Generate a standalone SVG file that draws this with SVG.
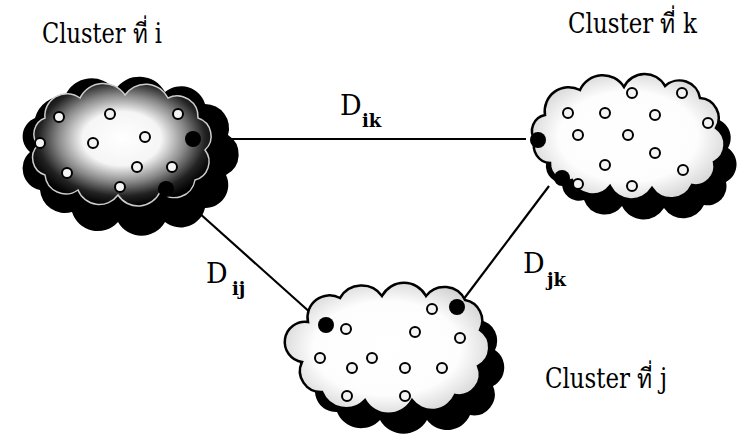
<svg xmlns="http://www.w3.org/2000/svg" width="743" height="443" viewBox="0 0 743 443">
<defs>
<radialGradient id="gDark" cx="50%" cy="45%" r="55%">
<stop offset="0" stop-color="#fff"/>
<stop offset="0.4" stop-color="#f5f5f5"/>
<stop offset="0.65" stop-color="#888"/>
<stop offset="0.85" stop-color="#222"/>
<stop offset="1" stop-color="#000"/>
</radialGradient>
<radialGradient id="gLight" cx="50%" cy="50%" r="60%">
<stop offset="0" stop-color="#fff"/>
<stop offset="0.6" stop-color="#fdfdfd"/>
<stop offset="1" stop-color="#c8c8c8"/>
</radialGradient>
</defs>
<style>
text{font-family:"DejaVu Serif","Noto Serif",serif;fill:#000}
.lbl{font-size:27px}
.dd{font-size:27px}
.sub{font-size:18px;font-weight:bold}
.edge{stroke:#000;stroke-width:2.2;fill:none}
.pt{fill:#f4f4f4;stroke:#000;stroke-width:2}
.hub{fill:#000}
.shadow{fill:#000}
.cloud{stroke:#000;stroke-width:2.5}
</style>

<g id="connectors">
<line class="edge" x1="232" y1="139" x2="526" y2="139"/>
<line class="edge" x1="198" y1="212" x2="322" y2="323"/>
<line class="edge" x1="549" y1="186" x2="460" y2="304"/>
</g>

<g id="cluster-i">
<path class="shadow" d="M35,118 A30,30 0 0 1 65,96 A29,29 0 0 1 115,90 A29,29 0 0 1 165,92 A25,25 0 0 1 205,104 A24,24 0 0 1 228,135 A23,23 0 0 1 226,175 A23,23 0 0 1 205,208 A25,25 0 0 1 165,222 A27,27 0 0 1 118,222 A27,27 0 0 1 72,212 A25,25 0 0 1 40,190 A22,22 0 0 1 30,152 A20,20 0 0 1 35,118 Z"/>
<path fill="url(#gDark)" stroke="#ccc" stroke-width="1.5" d="M45,118 A22,22 0 0 1 80,98 A26,26 0 0 1 125,95 A25,25 0 0 1 168,98 A21,21 0 0 1 198,118 A19,19 0 0 1 205,150 A19,19 0 0 1 195,180 A21,21 0 0 1 160,192 A24,24 0 0 1 118,195 A23,23 0 0 1 78,190 A21,21 0 0 1 45,175 A18,18 0 0 1 38,145 A17,17 0 0 1 45,118 Z"/>
<circle class="pt" cx="59" cy="117" r="5"/>
<circle class="pt" cx="110" cy="114" r="5"/>
<circle class="pt" cx="178" cy="114" r="5"/>
<circle class="pt" cx="40" cy="143" r="5"/>
<circle class="pt" cx="93" cy="143" r="5"/>
<circle class="pt" cx="145" cy="137" r="5"/>
<circle class="pt" cx="67" cy="173" r="5"/>
<circle class="pt" cx="137" cy="167" r="5"/>
<circle class="pt" cx="172" cy="167" r="5"/>
<circle class="pt" cx="120" cy="187" r="5"/>
<circle class="hub" cx="193" cy="139" r="8"/>
<circle class="hub" cx="166" cy="189" r="8"/>
</g>

<g id="cluster-k">
<path class="shadow" d="M557,135 A28,28 0 0 1 592,110 A25,25 0 0 1 636,107 A23,23 0 0 1 677,106 A22,22 0 0 1 712,118 A20,20 0 0 1 728,148 A20,20 0 0 1 726,182 A19,19 0 0 1 704,205 A23,23 0 0 1 664,208 A24,24 0 0 1 622,206 A22,22 0 0 1 584,200 A17,17 0 0 1 562,183 A17,17 0 0 1 547,160 A16,16 0 0 1 557,135 Z"/>
<path class="cloud" fill="url(#gLight)" d="M545,115 A24,24 0 0 1 580,90 A25,25 0 0 1 624,87 A23,23 0 0 1 665,86 A21,21 0 0 1 700,98 A20,20 0 0 1 716,128 A20,20 0 0 1 714,162 A19,19 0 0 1 692,185 A23,23 0 0 1 652,188 A24,24 0 0 1 610,186 A22,22 0 0 1 572,180 A17,17 0 0 1 550,163 A17,17 0 0 1 535,140 A16,16 0 0 1 545,115 Z"/>
<circle class="pt" cx="632" cy="93" r="5"/>
<circle class="pt" cx="682" cy="93" r="5"/>
<circle class="pt" cx="568" cy="113" r="5"/>
<circle class="pt" cx="605" cy="113" r="5"/>
<circle class="pt" cx="655" cy="115" r="5"/>
<circle class="pt" cx="708" cy="123" r="5"/>
<circle class="pt" cx="578" cy="135" r="5"/>
<circle class="pt" cx="628" cy="135" r="5"/>
<circle class="pt" cx="655" cy="153" r="5"/>
<circle class="pt" cx="605" cy="165" r="5"/>
<circle class="pt" cx="683" cy="170" r="5"/>
<circle class="pt" cx="578" cy="184" r="5"/>
<circle class="pt" cx="632" cy="186" r="5"/>
<circle class="hub" cx="538" cy="140" r="8"/>
<circle class="hub" cx="562" cy="178" r="8"/>
</g>

<g id="cluster-j">
<path class="shadow" d="M323,342 A22,22 0 0 1 355,318 A25,25 0 0 1 397,316 A25,25 0 0 1 441,316 A23,23 0 0 1 480,320 A21,21 0 0 1 495,350 A21,21 0 0 1 493,386 A21,21 0 0 1 470,415 A25,25 0 0 1 427,420 A27,27 0 0 1 380,420 A26,26 0 0 1 337,412 A21,21 0 0 1 317,382 A19,19 0 0 1 323,342 Z"/>
<path class="cloud" fill="url(#gLight)" d="M308,322 A22,22 0 0 1 340,298 A25,25 0 0 1 382,296 A25,25 0 0 1 426,296 A23,23 0 0 1 465,300 A21,21 0 0 1 480,330 A21,21 0 0 1 478,366 A21,21 0 0 1 455,395 A25,25 0 0 1 412,400 A27,27 0 0 1 365,400 A26,26 0 0 1 322,392 A21,21 0 0 1 302,362 A19,19 0 0 1 308,322 Z"/>
<circle class="pt" cx="432" cy="309" r="5"/>
<circle class="pt" cx="346" cy="329" r="5"/>
<circle class="pt" cx="415" cy="332" r="5"/>
<circle class="pt" cx="460" cy="338" r="5"/>
<circle class="pt" cx="320" cy="358" r="5"/>
<circle class="pt" cx="372" cy="358" r="5"/>
<circle class="pt" cx="352" cy="368" r="5"/>
<circle class="pt" cx="405" cy="368" r="5"/>
<circle class="pt" cx="442" cy="368" r="5"/>
<circle class="pt" cx="347" cy="396" r="5"/>
<circle class="pt" cx="405" cy="396" r="5"/>
<circle class="hub" cx="326" cy="325" r="8"/>
<circle class="hub" cx="457" cy="307" r="8"/>
</g>

<g id="labels">
<text class="lbl" x="42" y="43" textLength="120" lengthAdjust="spacingAndGlyphs">Cluster ที่ i</text>
<text class="lbl" x="568" y="33" textLength="129" lengthAdjust="spacingAndGlyphs">Cluster ที่ k</text>
<text class="lbl" x="545" y="388" textLength="122" lengthAdjust="spacingAndGlyphs">Cluster ที่ j</text>
<text class="dd" x="340" y="115">D</text><text class="sub" x="362" y="127">ik</text>
<text class="dd" x="206" y="283">D</text><text class="sub" x="232" y="295">ij</text>
<text class="dd" x="523" y="273">D</text><text class="sub" x="547" y="286">jk</text>
</g>
</svg>
